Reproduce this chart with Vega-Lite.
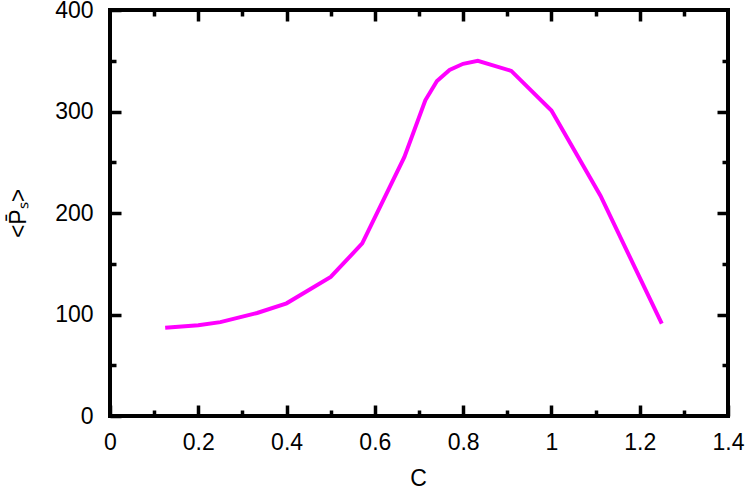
{
  "$schema": "https://vega.github.io/schema/vega-lite/v6.json",
  "autosize": "none",
  "padding": {"left": 110, "top": 10, "right": 19, "bottom": 73},
  "width": 618,
  "height": 406,
  "config": {
    "font": "Liberation Sans",
    "view": {"stroke": "black", "strokeWidth": 4},
    "axis": {
      "grid": false,
      "domain": false,
      "tickColor": "black",
      "tickWidth": 3.5,
      "labelFont": "Liberation Sans",
      "labelFontSize": 23,
      "labelColor": "black",
      "titleFont": "Liberation Sans",
      "titleFontSize": 23,
      "titleFontWeight": "normal",
      "titleColor": "black"
    }
  },
  "data": {
    "values": [
      {"C": 0.125, "P": 87},
      {"C": 0.2, "P": 89.5},
      {"C": 0.25, "P": 92.5},
      {"C": 0.3333, "P": 101.5},
      {"C": 0.4, "P": 111},
      {"C": 0.5, "P": 137},
      {"C": 0.5714, "P": 170},
      {"C": 0.6667, "P": 255},
      {"C": 0.7143, "P": 311},
      {"C": 0.7407, "P": 330},
      {"C": 0.7692, "P": 341},
      {"C": 0.8, "P": 347},
      {"C": 0.8333, "P": 350},
      {"C": 0.9091, "P": 340},
      {"C": 1.0, "P": 301},
      {"C": 1.1111, "P": 217},
      {"C": 1.25, "P": 91}
    ]
  },
  "layer": [
    {
      "mark": {"type": "line", "color": "#ff00ff", "strokeWidth": 4, "clip": true},
      "encoding": {
        "x": {"field": "C", "type": "quantitative",
          "scale": {"domain": [0, 1.4], "nice": false, "zero": false},
          "axis": {"orient": "bottom", "values": [0, 0.2, 0.4, 0.6, 0.8, 1, 1.2, 1.4], "format": "~g", "tickSize": -11, "labelPadding": 26, "labelFlush": false, "labelOverlap": false,
            "title": "C", "titleX": 308, "titleY": 69, "titleBaseline": "alphabetic", "titleAnchor": "start", "titleAlign": "center"}},
        "y": {"field": "P", "type": "quantitative",
          "scale": {"domain": [0, 400], "nice": false, "zero": false},
          "axis": {"orient": "left", "values": [0, 100, 200, 300, 400], "format": "d", "tickSize": -11, "labelPadding": 28, "labelFlush": false, "labelOverlap": false,
            "title": "<P̄ₛ>", "titleX": -85, "titleY": 203, "titleAngle": -90, "titleBaseline": "alphabetic", "titleAlign": "center", "titleAnchor": "start"}}
      }
    },
    {
      "mark": {"type": "point", "opacity": 0},
      "encoding": {
        "x": {"field": "C", "type": "quantitative",
          "axis": {"orient": "bottom", "values": [0.1, 0.3, 0.5, 0.7, 0.9, 1.1, 1.3], "tickSize": -6, "labels": false, "title": null}},
        "y": {"field": "P", "type": "quantitative",
          "axis": {"orient": "left", "values": [50, 150, 250, 350], "tickSize": -6, "labels": false, "title": null}}
      }
    },
    {
      "mark": {"type": "point", "opacity": 0},
      "encoding": {
        "x": {"field": "C", "type": "quantitative",
          "axis": {"orient": "top", "values": [0.2, 0.4, 0.6, 0.8, 1, 1.2], "tickSize": -11, "labels": false, "title": null}},
        "y": {"field": "P", "type": "quantitative",
          "axis": {"orient": "right", "values": [100, 200, 300], "tickSize": -11, "labels": false, "title": null}}
      }
    },
    {
      "mark": {"type": "point", "opacity": 0},
      "encoding": {
        "x": {"field": "C", "type": "quantitative",
          "axis": {"orient": "top", "values": [0.1, 0.3, 0.5, 0.7, 0.9, 1.1, 1.3], "tickSize": -6, "labels": false, "title": null}},
        "y": {"field": "P", "type": "quantitative",
          "axis": {"orient": "right", "values": [50, 150, 250, 350], "tickSize": -6, "labels": false, "title": null}}
      }
    }
  ],
  "resolve": {"axis": {"x": "independent", "y": "independent"}}
}
